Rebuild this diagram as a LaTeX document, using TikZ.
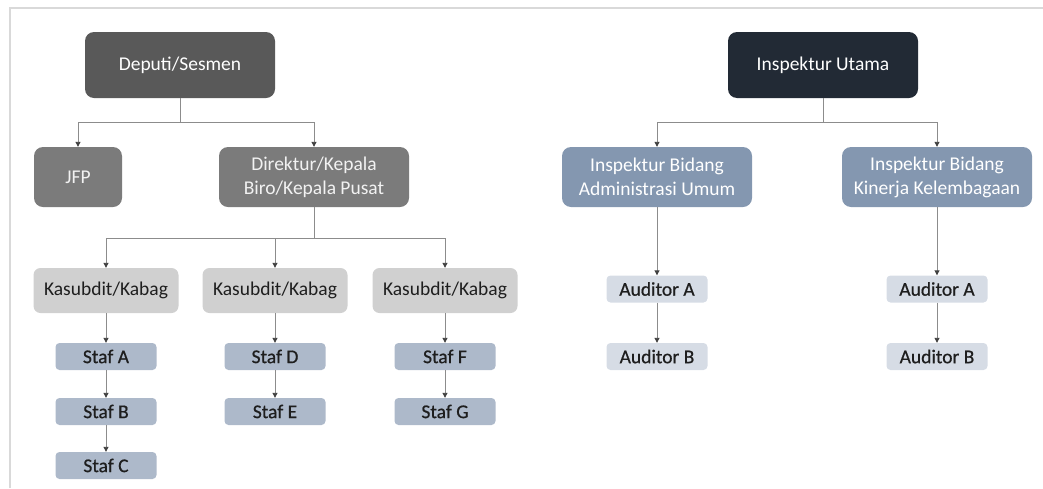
\documentclass[tikz,border=0pt]{standalone}
\usepackage{fontspec}
\setmainfont{Carlito}
\newfontfamily\semibfont[FakeBold=0.6]{Carlito}
\usetikzlibrary{arrows.meta}
\definecolor{cDep}{HTML}{595959}
\definecolor{cJfp}{HTML}{7B7B7B}
\definecolor{cKas}{HTML}{D0D0D0}
\definecolor{cStaf}{HTML}{ADB9CA}
\definecolor{cIU}{HTML}{222A35}
\definecolor{cIB}{HTML}{8497B0}
\definecolor{cAud}{HTML}{D6DCE5}
\definecolor{cLine}{HTML}{8C8C8C}
\definecolor{cFrame}{HTML}{D9D9D9}
\definecolor{cTxt}{HTML}{1E1E1E}
\begin{document}
\begin{tikzpicture}[x=1pt,y=-1pt,
  box/.style={rectangle,rounded corners=9pt,inner sep=0pt,align=center,
    font=\fontsize{19.5}{24}\selectfont},
  bigbox/.style={box,minimum width=190pt,minimum height=66pt},
  midbox/.style={box,minimum width=190pt,minimum height=60pt},
  jfpbox/.style={box,minimum width=88pt,minimum height=60pt},
  kasbox/.style={box,fill=cKas,text=cTxt,minimum width=145pt,minimum height=45pt,rounded corners=7pt},
  stafbox/.style={box,fill=cStaf,text=cTxt,minimum width=101pt,minimum height=27pt,rounded corners=4pt,
    font=\semibfont\fontsize{19.5}{24}\selectfont},
  audbox/.style={stafbox,fill=cAud},
  conn/.style={draw=cLine,line width=0.9pt,-{Triangle[length=5pt,width=5pt,fill=black!75,color=black!75]}},
  plain/.style={draw=cLine,line width=0.9pt}]
\useasboundingbox (0,0) rectangle (1043,488);
\draw[cFrame,line width=2pt] (10,488) -- (10,8) -- (1043,8);

% left tree
\node[bigbox,fill=cDep,text=white] (dep) at (180,65) {Deputi/Sesmen};
\node[jfpbox,fill=cJfp,text=white!95!black] (jfp) at (78,177) {JFP};
\node[midbox,fill=cJfp,text=white!95!black] (dir) at (314,177) {Direktur/Kepala\\Biro/Kepala Pusat};
\node[kasbox] (k1) at (106,290.5) {Kasubdit/Kabag};
\node[kasbox] (k2) at (275,290.5) {Kasubdit/Kabag};
\node[kasbox] (k3) at (445,290.5) {Kasubdit/Kabag};
\node[stafbox] (sa) at (106,356.5) {Staf A};
\node[stafbox] (sb) at (106,411.5) {Staf B};
\node[stafbox] (sc) at (106,465.5) {Staf C};
\node[stafbox] (sd) at (275,356.5) {Staf D};
\node[stafbox] (se) at (275,411.5) {Staf E};
\node[stafbox] (sf) at (445,356.5) {Staf F};
\node[stafbox] (sg) at (445,411.5) {Staf G};

\coordinate (j1) at (180,122);
\draw[plain] (dep.south) -- (j1);
\draw[conn] (j1) -| (jfp.north);
\draw[conn] (j1) -| (dir.north);
\coordinate (j2) at (314,238);
\draw[plain] (dir.south) -- (j2);
\draw[conn] (j2) -| (k1.north);
\draw[conn] (j2) -| (k2.north);
\draw[conn] (j2) -| (k3.north);
\draw[conn] (k1) -- (sa);
\draw[conn] (sa) -- (sb);
\draw[conn] (sb) -- (sc);
\draw[conn] (k2) -- (sd);
\draw[conn] (sd) -- (se);
\draw[conn] (k3) -- (sf);
\draw[conn] (sf) -- (sg);

% right tree
\node[bigbox,fill=cIU,text=white] (iu) at (823,65) {Inspektur Utama};
\node[midbox,fill=cIB,text=white] (ib1) at (657,177) {Inspektur Bidang\\Administrasi Umum};
\node[midbox,fill=cIB,text=white] (ib2) at (937,177) {Inspektur Bidang\\Kinerja Kelembagaan};
\node[audbox] (a1) at (657,289) {Auditor A};
\node[audbox] (b1) at (657,356.5) {Auditor B};
\node[audbox] (a2) at (937,289) {Auditor A};
\node[audbox] (b2) at (937,356.5) {Auditor B};

\coordinate (j3) at (823,122);
\draw[plain] (iu.south) -- (j3);
\draw[conn] (j3) -| (ib1.north);
\draw[conn] (j3) -| (ib2.north);
\draw[conn] (ib1) -- (a1);
\draw[conn] (a1) -- (b1);
\draw[conn] (ib2) -- (a2);
\draw[conn] (a2) -- (b2);
\end{tikzpicture}
\end{document}
